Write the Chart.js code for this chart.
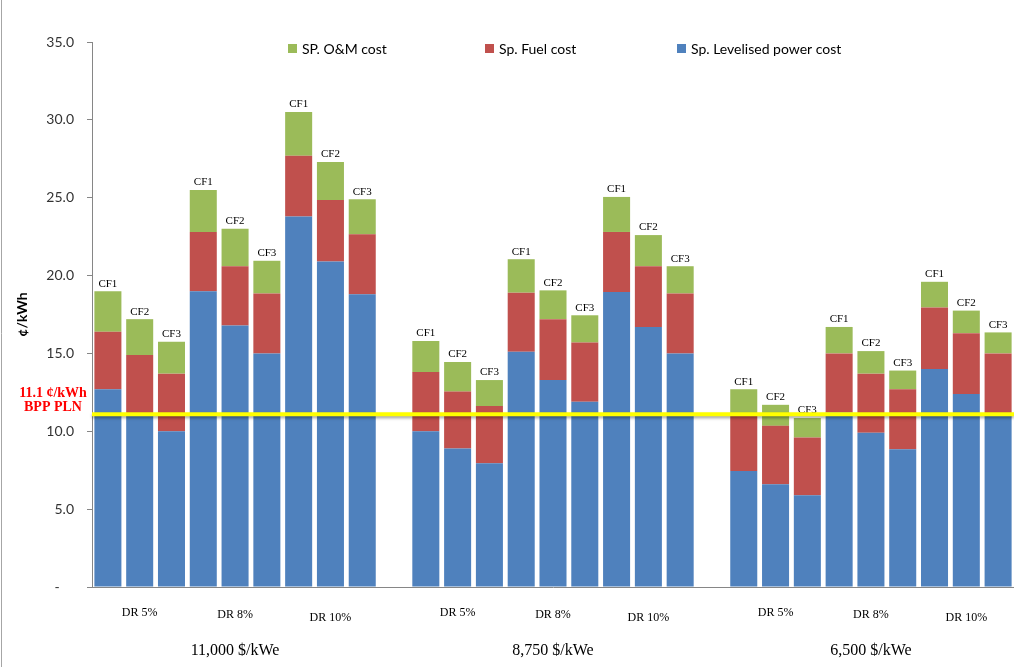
<!DOCTYPE html>
<html>
<head>
<meta charset="utf-8">
<title>Specific power cost</title>
<script src="https://cdn.jsdelivr.net/npm/chart.js@4.4.1/dist/chart.umd.min.js"></script>
<style>
  body { margin: 0; background: #fff; }
  #wrap { width: 1014px; height: 667px; }
</style>
</head>
<body>
<div id="wrap"><canvas id="costChart" width="1014" height="667"></canvas></div>
<script>
// === DATA === //

const capitalCosts = ['11,000 $/kWe', '8,750 $/kWe', '6,500 $/kWe']
const discountRates = ['DR 5%', 'DR 8%', 'DR 10%']
const capacityFactors = ['CF1', 'CF2', 'CF3']

// ¢/kWh, ordered capital cost > discount rate > capacity factor
const levelisedCost = [
  12.7, 11.1, 10.0, 19.0, 16.8, 15.0, 23.8, 20.9, 18.8,
  10.0, 8.9, 7.95, 15.1, 13.3, 11.9, 18.95, 16.7, 15.0,
  7.45, 6.6, 5.9, 11.2, 9.9, 8.85, 14.0, 12.4, 11.1
]
const fuelCost = [
  3.7, 3.8, 3.7, 3.8, 3.8, 3.85, 3.9, 3.95, 3.85,
  3.8, 3.65, 3.67, 3.8, 3.9, 3.8, 3.85, 3.9, 3.85,
  3.65, 3.75, 3.7, 3.8, 3.8, 3.85, 3.95, 3.9, 3.9
]
const omCost = [
  2.6, 2.3, 2.05, 2.7, 2.4, 2.1, 2.8, 2.45, 2.25,
  2.0, 1.9, 1.67, 2.15, 1.85, 1.75, 2.25, 2.0, 1.75,
  1.6, 1.35, 1.25, 1.7, 1.45, 1.2, 1.65, 1.45, 1.35
]

const bppPln = 11.1
const bppLabel = ['11.1 ¢/kWh', 'BPP PLN']

// === CATEGORIES (one empty slot between capital cost cases) === //

const slots = []
const labels = []
capitalCosts.forEach((cost, c) => {
  if (c > 0) labels.push('')
  discountRates.forEach((dr, d) => {
    capacityFactors.forEach((cf, f) => {
      slots.push({ index: labels.length, cost: c, dr: d, cf: f })
      labels.push(`${cost} ${dr} ${cf}`)
    })
  })
})

function withGaps(values) {
  const out = labels.map(() => null)
  slots.forEach((slot, i) => { out[slot.index] = values[i] })
  return out
}

// === DRAWING === //

const serif = '"Liberation Serif", "Times New Roman", serif'
const sans = 'Lato, "Open Sans", sans-serif'

const costAnnotations = {
  id: 'costAnnotations',
  afterDatasetsDraw(chart) {
    const { ctx, chartArea, scales } = chart
    const x = scales.x
    const y = scales.y
    ctx.save()

    // frame line on the left edge
    ctx.strokeStyle = '#a6a6a6'
    ctx.lineWidth = 1
    ctx.beginPath()
    ctx.moveTo(1.5, 0)
    ctx.lineTo(1.5, chart.height)
    ctx.stroke()

    // CF labels over each stack
    const topBars = chart.getDatasetMeta(2).data
    ctx.fillStyle = '#000'
    ctx.font = `11px ${serif}`
    ctx.textAlign = 'center'
    ctx.textBaseline = 'bottom'
    slots.forEach(slot => {
      const bar = topBars[slot.index]
      ctx.fillText(capacityFactors[slot.cf], bar.x, bar.y - 2)
    })

    // BPP PLN reference line
    const lineY = y.getPixelForValue(bppPln)
    ctx.save()
    ctx.shadowColor = 'rgba(0,0,0,0.35)'
    ctx.shadowBlur = 3
    ctx.shadowOffsetY = 2
    ctx.strokeStyle = '#ffff00'
    ctx.lineWidth = 4
    ctx.beginPath()
    ctx.moveTo(chartArea.left, lineY)
    ctx.lineTo(chartArea.right, lineY)
    ctx.stroke()
    ctx.restore()

    ctx.fillStyle = '#ff0000'
    ctx.font = `bold 14px ${serif}`
    ctx.textBaseline = 'middle'
    ctx.fillText(bppLabel[0], chartArea.left - 39, lineY - 21)
    ctx.fillText(bppLabel[1], chartArea.left - 39, lineY - 7)

    // discount rate and capital cost labels under the axis
    ctx.fillStyle = '#000'
    const drOffsets = [26, 28, 31]
    slots.filter(s => s.cf === 1).forEach(slot => {
      const px = x.getPixelForValue(slot.index)
      ctx.font = `12px ${serif}`
      ctx.fillText(discountRates[slot.dr], px, chartArea.bottom + drOffsets[slot.dr])
      if (slot.dr === 1) {
        ctx.font = `16px ${serif}`
        ctx.fillText(capitalCosts[slot.cost], px, chartArea.bottom + 64)
      }
    })

    // legend, top of plot
    const legendLeft = [196, 393, 585]
    ctx.font = `14px ${sans}`
    ctx.textAlign = 'left'
    chart.data.datasets.slice().reverse().forEach((ds, i) => {
      const lx = chartArea.left + legendLeft[i]
      ctx.fillStyle = ds.backgroundColor
      ctx.fillRect(lx, chartArea.top + 2, 9, 9)
      ctx.fillStyle = '#000'
      ctx.fillText(ds.label, lx + 14, chartArea.top + 7)
    })

    ctx.restore()
  }
}

new Chart(document.getElementById('costChart'), {
  type: 'bar',
  data: {
    labels: labels,
    datasets: [
      { label: 'Sp. Levelised power cost', data: withGaps(levelisedCost), backgroundColor: '#4f81bd' },
      { label: 'Sp. Fuel cost', data: withGaps(fuelCost), backgroundColor: '#c0504d' },
      { label: 'SP. O&M cost', data: withGaps(omCost), backgroundColor: '#9bbb59' }
    ]
  },
  options: {
    responsive: false,
    animation: false,
    devicePixelRatio: 1,
    layout: { padding: { top: 42, bottom: 80, left: 0, right: 0 } },
    datasets: { bar: { categoryPercentage: 1, barPercentage: 0.85, borderWidth: 0 } },
    plugins: { legend: { display: false }, tooltip: { enabled: false } },
    scales: {
      x: {
        stacked: true,
        grid: { display: false },
        ticks: { display: false },
        border: { color: '#868686' },
        afterFit: scale => { scale.height = 0 }
      },
      y: {
        stacked: true,
        min: 0,
        max: 35,
        ticks: {
          stepSize: 5,
          padding: 13,
          color: '#333',
          font: { family: sans, size: 14 },
          callback: v => v === 0 ? '-    ' : v.toFixed(1)
        },
        grid: { drawOnChartArea: false, tickLength: 5, color: '#868686' },
        border: { color: '#868686' },
        title: {
          display: true,
          text: '¢/kWh',
          color: '#000',
          font: { family: sans, size: 14, weight: 'bold' },
          padding: { top: 14, bottom: 0 }
        },
        afterFit: scale => { scale.width = 92 }
      }
    }
  },
  plugins: [costAnnotations]
})
</script>
</body>
</html>
